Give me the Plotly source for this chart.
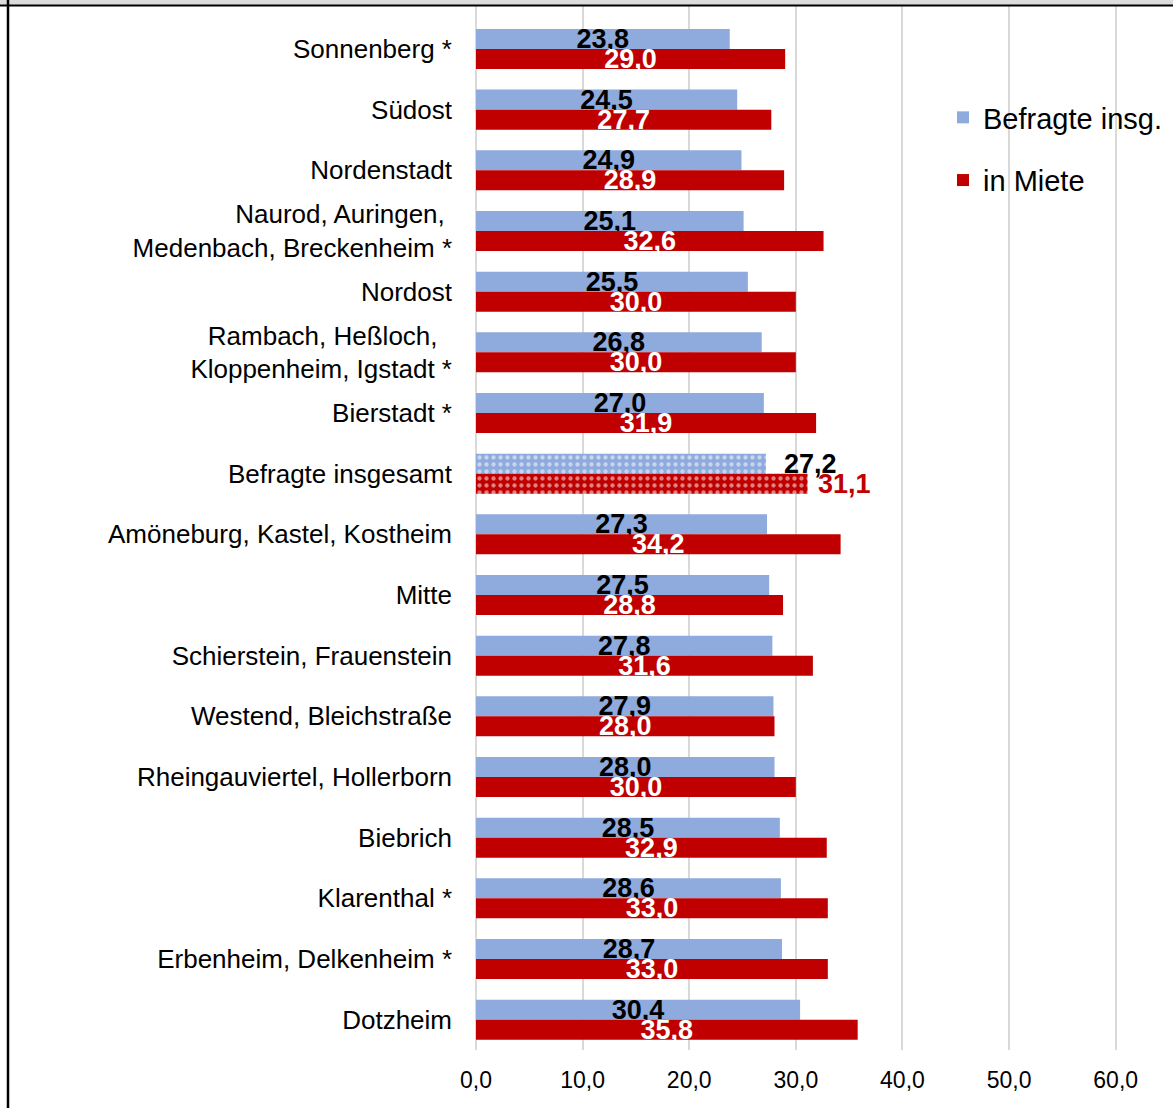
import plotly.graph_objects as go

categories = [
    "Sonnenberg *",
    "Südost",
    "Nordenstadt",
    "Naurod, Auringen,\u00a0<br>Medenbach, Breckenheim *",
    "Nordost",
    "Rambach, Heßloch,\u00a0\u00a0<br>Kloppenheim, Igstadt *",
    "Bierstadt *",
    "Befragte insgesamt",
    "Amöneburg, Kastel, Kostheim",
    "Mitte",
    "Schierstein, Frauenstein",
    "Westend, Bleichstraße",
    "Rheingauviertel, Hollerborn",
    "Biebrich",
    "Klarenthal *",
    "Erbenheim, Delkenheim *",
    "Dotzheim",
]
befragte = [23.8, 24.5, 24.9, 25.1, 25.5, 26.8, 27.0, 27.2, 27.3, 27.5, 27.8, 27.9, 28.0, 28.5, 28.6, 28.7, 30.4]
miete = [29.0, 27.7, 28.9, 32.6, 30.0, 30.0, 31.9, 31.1, 34.2, 28.8, 31.6, 28.0, 30.0, 32.9, 33.0, 33.0, 35.8]
total_label = "Befragte insgesamt"
x_ticks = [0, 10, 20, 30, 40, 50, 60]

BLUE = "#8faadc"
RED = "#c00000"
FONT = "Liberation Sans, Arial, sans-serif"

W, H = 1173, 1108
L, R, T, B = 476, 52, 6, 58
PW = W - L - R
PH = H - T - B


def px_x(px):
    return (px - L) / PW


def px_y(py):
    return (H - B - py) / PH


idx = list(range(len(categories)))
total_i = categories.index(total_label)


def fmt(v):
    return f"{v:.1f}".replace(".", ",")


def build(vals, color, name, pad, out_color, in_color):
    texts, pos, shapes = [], [], []
    for i, v in enumerate(vals):
        if i == total_i:
            texts.append(pad + fmt(v))
            pos.append("outside")
            shapes.append(".")
        else:
            texts.append(fmt(v))
            pos.append("inside")
            shapes.append("")
    return go.Bar(
        name=name,
        y=idx,
        x=vals,
        orientation="h",
        marker=dict(
            color=color,
            line=dict(width=0),
            pattern=dict(shape=shapes, fgcolor="white", size=7, solidity=0.3),
        ),
        text=texts,
        textposition=pos,
        insidetextanchor="middle",
        insidetextfont=dict(family=FONT, size=27, color=in_color, weight="bold"),
        outsidetextfont=dict(family=FONT, size=27, color=out_color, weight="bold"),
        constraintext="none",
        cliponaxis=False,
        legendgroup=name,
        hoverinfo="skip",
    )


fig = go.Figure()
fig.add_trace(build(befragte, BLUE, "Befragte insg.", "\u00a0\u00a0", "black", "black"))
fig.add_trace(build(miete, RED, "in Miete", "\u00a0", RED, "white"))

y_top = -0.5 - (49 - 30.35 - T) / 60.7

fig.update_layout(
    width=W,
    height=H,
    margin=dict(l=L, r=R, t=T, b=B, pad=0),
    paper_bgcolor="white",
    plot_bgcolor="white",
    barmode="group",
    bargap=0.34,
    bargroupgap=0,
    font=dict(family=FONT, color="black"),
    showlegend=True,
    legend=dict(
        x=px_x(943),
        y=px_y(92),
        xanchor="left",
        yanchor="top",
        font=dict(family=FONT, size=29, color="black"),
        traceorder="grouped",
        tracegroupgap=22,
        bgcolor="rgba(0,0,0,0)",
        itemwidth=30,
    ),
    xaxis=dict(
        range=[0, 60.5],
        tickvals=x_ticks,
        ticktext=[fmt(t) for t in x_ticks],
        showgrid=True,
        gridcolor="#d9d9d9",
        gridwidth=1.5,
        zeroline=True,
        zerolinecolor="#d9d9d9",
        zerolinewidth=1.5,
        showline=False,
        ticks="",
        ticklabelstandoff=14,
        tickfont=dict(family=FONT, size=23, color="black"),
        fixedrange=True,
    ),
    yaxis=dict(
        range=[len(categories) - 0.5, y_top],
        tickvals=idx,
        ticktext=categories,
        showgrid=False,
        zeroline=False,
        showline=False,
        ticks="",
        ticklabelstandoff=23,
        tickfont=dict(family=FONT, size=26, color="black"),
        fixedrange=True,
    ),
    shapes=[
        dict(type="rect", xref="paper", yref="paper", x0=px_x(0), x1=px_x(W), y0=px_y(5), y1=px_y(0),
             fillcolor="#dcdcdc", line=dict(width=0), layer="above"),
        dict(type="line", xref="paper", yref="paper", x0=px_x(0), x1=px_x(W), y0=px_y(5.5), y1=px_y(5.5),
             line=dict(color="black", width=2), layer="above"),
        dict(type="line", xref="paper", yref="paper", x0=px_x(8), x1=px_x(8), y0=px_y(0), y1=px_y(H),
             line=dict(color="black", width=2.5), layer="above"),
    ],
)

fig.write_html("out.html")
